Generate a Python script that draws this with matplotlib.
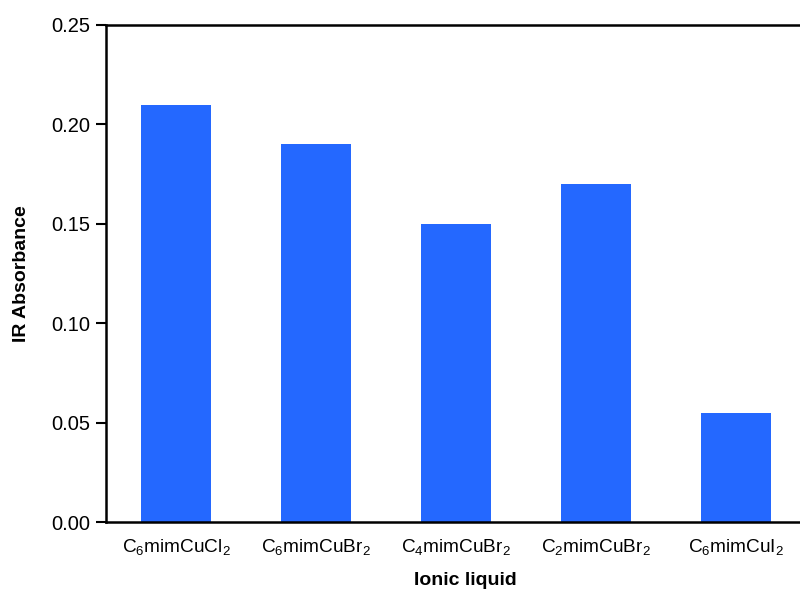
import matplotlib
matplotlib.use("Agg")
import matplotlib.pyplot as plt

categories = ["C$_6$mimCuCl$_2$", "C$_6$mimCuBr$_2$", "C$_4$mimCuBr$_2$",
              "C$_2$mimCuBr$_2$", "C$_6$mimCuI$_2$"]
values = [0.21, 0.19, 0.15, 0.17, 0.055]
yticks = [0.00, 0.05, 0.10, 0.15, 0.20, 0.25]
ytick_labels = ["0.00", "0.05", "0.10", "0.15", "0.20", "0.25"]

plt.rcParams['font.family'] = ['Liberation Sans', 'DejaVu Sans']
plt.rcParams['mathtext.default'] = 'regular'

fig = plt.figure(figsize=(8, 5.92), dpi=100)
W, H = 800, 592
left, right, top, bottom = 106, 806, 25, 522
ax = fig.add_axes([left / W, (H - bottom) / H, (right - left) / W, (bottom - top) / H])

x = list(range(len(categories)))
ax.bar(x, values, width=0.5, color="#2468FF")
ax.set_xlim(-0.5, len(categories) - 0.5)
ax.set_ylim(0, 0.25)
ax.set_yticks(yticks)
ax.set_yticklabels(ytick_labels)
ax.set_xticks(x)
ax.set_xticklabels(categories)

for s in ["left", "top", "bottom"]:
    ax.spines[s].set_linewidth(1.8)
    ax.spines[s].set_color("black")
ax.spines["right"].set_visible(False)

ax.tick_params(axis="y", direction="out", length=7, width=1.5, labelsize=14.5, pad=4)
ax.tick_params(axis="x", length=0, labelsize=13.7, pad=11)

ax.set_ylabel("IR Absorbance", fontsize=14, fontweight="bold")
ax.set_xlabel("Ionic liquid", fontsize=14, fontweight="bold")
ax.xaxis.set_label_coords((465 - left) / (right - left), (bottom - 572) / (bottom - top))
ax.yaxis.set_label_coords((30 - left) / (right - left), 0.5)

fig.savefig("out.png", dpi=100)
